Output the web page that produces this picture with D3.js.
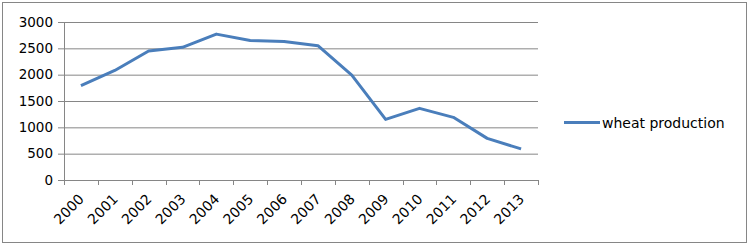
<!DOCTYPE html>
<html>
<head>
<meta charset="utf-8">
<script src="https://cdn.jsdelivr.net/npm/d3@7"></script>
<style>
  body { margin: 0; background: #fff; }
  text { font-family: "DejaVu Sans", sans-serif; fill: #000; }
</style>
</head>
<body>
<svg></svg>
<script>
// chart data
const years = ["2000", "2001", "2002", "2003", "2004", "2005", "2006", "2007",
               "2008", "2009", "2010", "2011", "2012", "2013"];
const wheat = [1790, 2080, 2450, 2520, 2770, 2650, 2630, 2550, 1990, 1150, 1360, 1190, 790, 590];
const yTicks = [0, 500, 1000, 1500, 2000, 2500, 3000];
const seriesName = "wheat production";

const svgWidth = 749, svgHeight = 247;
const plot = {left: 64, right: 538, top: 22, bottom: 180};
const lineColor = "#4a7ebb";
const gridColor = "#868686";

const svg = d3.select("svg")
  .attr("width", svgWidth)
  .attr("height", svgHeight);

// outer frame
svg.append("rect")
  .attr("x", 2.5).attr("y", 2.5)
  .attr("width", 744).attr("height", 240)
  .attr("fill", "#fff")
  .attr("stroke", gridColor);

const x = d3.scaleBand().domain(years).range([plot.left, plot.right]).padding(0);
const y = d3.scaleLinear().domain([0, 3000]).range([plot.bottom, plot.top]);

// gridlines + y labels
const yAxis = svg.append("g")
  .attr("transform", `translate(${plot.left},0)`)
  .call(d3.axisLeft(y).tickValues(yTicks).tickFormat(d3.format("d"))
    .tickSize(-(plot.right - plot.left)).tickPadding(11));
yAxis.select(".domain").remove();
yAxis.selectAll(".tick line")
  .attr("x1", -6)
  .attr("stroke", gridColor);
yAxis.selectAll(".tick text")
  .attr("font-size", "13.5px")
  .attr("font-family", "DejaVu Sans");

// vertical axis line
svg.append("line")
  .attr("x1", plot.left + 0.5).attr("x2", plot.left + 0.5)
  .attr("y1", y(3000)).attr("y2", y(0))
  .attr("stroke", gridColor);

// category ticks sit between categories
const bounds = years.map(d => x(d)).concat([x.range()[1]]);
svg.append("g")
  .selectAll("line")
  .data(bounds)
  .join("line")
  .attr("x1", d => Math.round(d) + 0.5).attr("x2", d => Math.round(d) + 0.5)
  .attr("y1", y(0)).attr("y2", y(0) + 5)
  .attr("stroke", gridColor);

// x labels rotated
svg.append("g")
  .selectAll("text")
  .data(years)
  .join("text")
  .attr("transform", d => `translate(${x(d) + x.bandwidth() / 2 + 4},${y(0) + 20}) rotate(-45)`)
  .attr("text-anchor", "end")
  .attr("font-size", "14px")
  .text(d => d);

// series line
const line = d3.line()
  .x((d, i) => x(years[i]) + x.bandwidth() / 2)
  .y(d => y(d));

svg.append("path")
  .datum(wheat)
  .attr("fill", "none")
  .attr("stroke", lineColor)
  .attr("stroke-width", 3)
  .attr("stroke-linejoin", "round")
  .attr("d", line);

// legend
const legend = svg.append("g").attr("transform", "translate(564,122.5)");
legend.append("line")
  .attr("x1", 0).attr("x2", 36)
  .attr("stroke", lineColor)
  .attr("stroke-width", 3);
legend.append("text")
  .attr("x", 38).attr("y", 5)
  .attr("font-size", "14px")
  .text(seriesName);
</script>
</body>
</html>
